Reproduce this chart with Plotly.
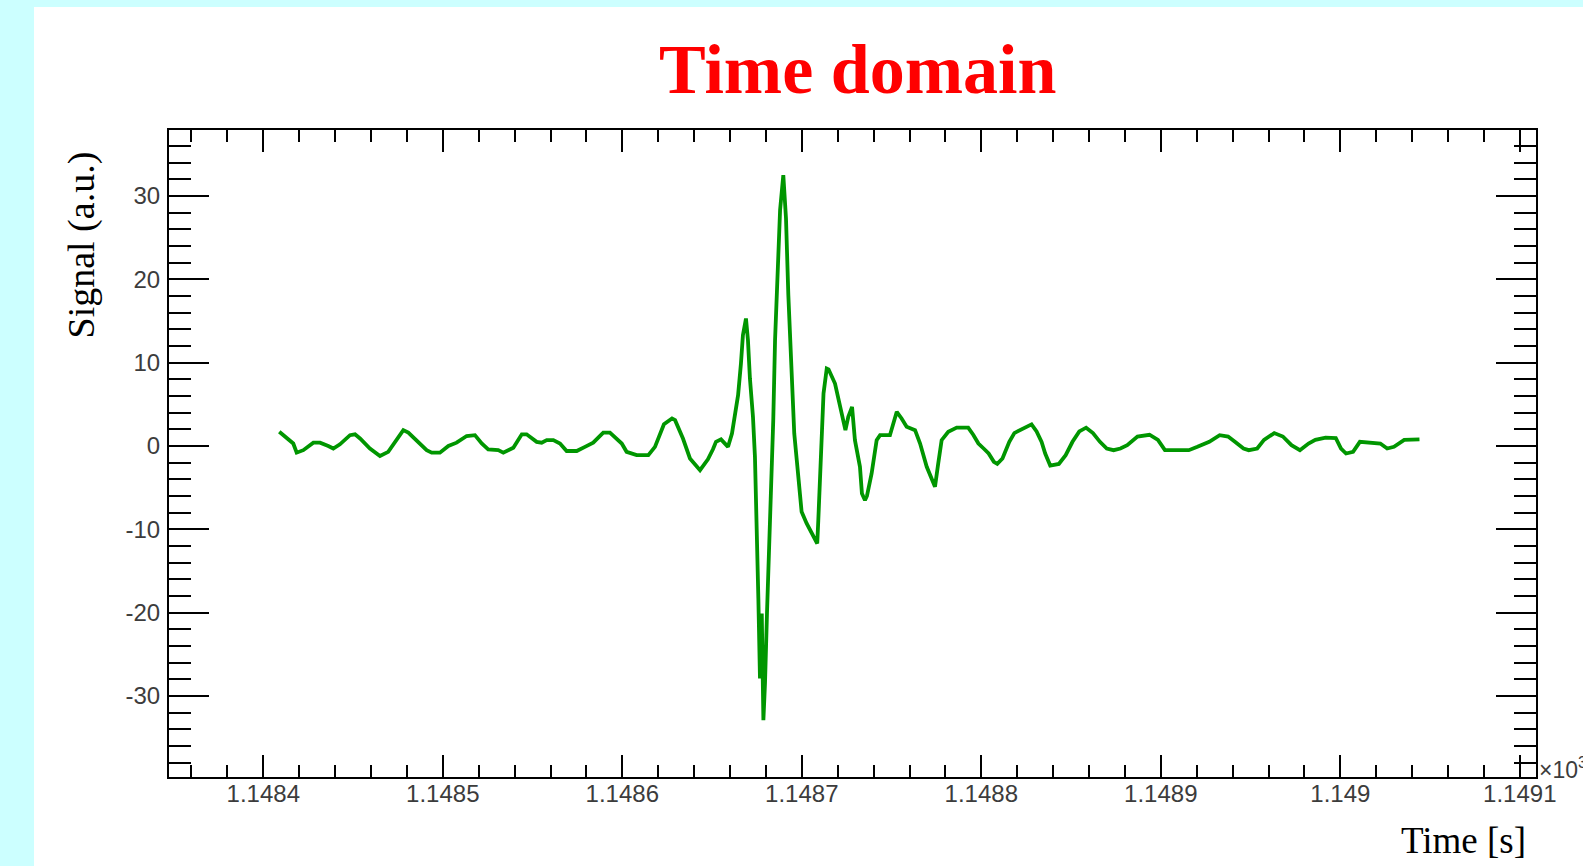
import plotly.graph_objects as go

# ---- data (time offsets in ms after t0 = 1148.4 s, signal in a.u.) ----
t0_s = 1148.4
dt_ms = [8.9, 16.7, 18.6, 22.3, 27.9, 31.6, 36.2, 39.0, 42.7, 48.3, 51.1, 53.9, 59.4, 65.0,
         69.6, 73.4, 78.0, 80.8, 85.5, 91.0, 93.8, 98.4, 103.1, 107.7, 113.3, 117.9, 121.7,
         125.3, 130.9, 133.7, 139.3, 144.0, 146.7, 152.3, 155.1, 157.9, 161.6, 165.3, 169.0,
         174.6, 179.2, 183.8, 189.4, 193.1, 199.7, 202.4, 208.0, 214.5, 218.2, 223.2, 227.7,
         229.4, 233.8, 237.7, 243.3, 247.7, 250.5, 252.2, 255.0, 258.9, 261.1, 262.8, 264.5,
         266.1, 267.2, 268.9, 270.0, 271.1, 272.8, 273.9, 274.9, 275.8, 276.7, 277.7, 278.6,
         279.5, 280.6, 282.0, 283.1, 284.1, 285.1, 286.3, 287.9, 289.7, 291.2, 292.5, 294.4,
         295.8, 297.2, 298.0, 299.0, 299.9, 302.7, 306.4, 308.6, 309.2, 310.1, 311.6, 312.1,
         313.9, 314.9, 318.5, 322.2, 324.3, 325.9, 328.0, 329.6, 332.4, 333.5, 335.2, 336.3,
         338.9, 341.7, 343.6, 349.1, 351.0, 352.9, 355.6, 358.4, 363.1, 365.9, 369.6, 374.2,
         376.0, 377.9, 381.6, 386.3, 390.0, 392.7, 395.5, 398.4, 401.3, 404.1, 407.0, 408.9,
         411.8, 415.6, 418.4, 422.2, 428.0, 430.8, 433.6, 435.6, 438.4, 443.2, 447.0, 450.8,
         454.6, 458.4, 462.2, 466.1, 469.9, 473.7, 477.5, 481.3, 487.0, 493.7, 498.4, 502.3,
         508.0, 515.6, 520.4, 527.0, 532.8, 537.5, 541.3, 546.1, 549.0, 553.7, 557.5, 563.2,
         568.0, 572.8, 577.5, 582.3, 586.1, 591.8, 597.5, 600.4, 603.2, 607.1, 610.9, 615.6,
         622.3, 626.1, 629.9, 635.6, 641.3, 644.1]
signal = [1.7, 0.3, -0.8, -0.5, 0.4, 0.4, 0.0, -0.3, 0.2, 1.3, 1.4, 0.9, -0.3, -1.2,
          -0.7, 0.5, 1.9, 1.6, 0.6, -0.5, -0.8, -0.8, 0.0, 0.4, 1.2, 1.3, 0.3,
          -0.4, -0.5, -0.8, -0.2, 1.4, 1.4, 0.5, 0.4, 0.7, 0.7, 0.3, -0.6,
          -0.6, -0.1, 0.4, 1.6, 1.6, 0.3, -0.7, -1.1, -1.1, -0.1, 2.6, 3.3,
          3.1, 0.9, -1.5, -2.9, -1.6, -0.4, 0.5, 0.8, -0.1, 1.5, 3.9, 6.1,
          9.9, 13.3, 15.3, 12.7, 8.1, 3.5, -1.3, -8.5, -18.3, -27.9, -20.1, -32.9,
          -28.5, -20.1, -11.7, -3.3, 3.1, 12.7, 20.5, 28.3, 32.5, 27.3, 18.1, 8.7,
          1.5, -1.7, -3.3, -6.1, -7.9, -9.3, -10.7, -11.7, -8.9, -3.9, 1.5, 6.3,
          9.3, 9.2, 7.5, 3.7, 1.9, 3.5, 4.7, 0.7, -2.5, -5.7, -6.5, -6.0,
          -3.3, 0.7, 1.3, 1.3, 2.7, 4.1, 3.3, 2.3, 1.9, 0.3, -2.5, -4.9,
          -2.1, 0.7, 1.7, 2.2, 2.2, 2.2, 1.35, 0.3, -0.3, -0.9, -1.9, -2.15,
          -1.5, 0.5, 1.55, 2.0, 2.6, 1.75, 0.5, -0.9, -2.35, -2.15, -1.1, 0.5,
          1.75, 2.2, 1.55, 0.5, -0.3, -0.5, -0.3, 0.1, 1.14, 1.35, 0.73, -0.5,
          -0.5, -0.5, -0.1, 0.5, 1.3, 1.14, 0.5, -0.3, -0.5, -0.3, 0.73, 1.55,
          1.14, 0.1, -0.5, 0.3, 0.73, 1.0, 0.94, -0.3, -0.9, -0.7, 0.5, 0.45,
          0.3, -0.3, -0.1, 0.73, 0.73, 0.8]

x_tickvals = [1.1484, 1.1485, 1.1486, 1.1487, 1.1488, 1.1489, 1.1490, 1.1491]
x_ticktext = ["1.1484", "1.1485", "1.1486", "1.1487", "1.1488", "1.1489", "1.149", "1.1491"]
y_tickvals = [-30, -20, -10, 0, 10, 20, 30]
y_ticktext = ["-30", "-20", "-10", "0", "10", "20", "30"]

# time axis shown in units of 10^3 s
time_k = [(t0_s + d / 1000.0) / 1000.0 for d in dt_ms]

# ---- layout geometry (pixels) ----
W, H = 1583, 866
L, R, T, B = 169, 1536, 130, 777
pw, ph = R - L, B - T


def px(xp):
    return (xp - L) / pw


def py(yp):
    return (B - yp) / ph


fig = go.Figure()
fig.add_trace(go.Scatter(x=time_k, y=signal, mode="lines",
                         line=dict(color="#009600", width=3.8),
                         hoverinfo="skip", showlegend=False))

tickfont = dict(family="Liberation Sans, Arial, sans-serif", size=24, color="#3c3c3c")

fig.update_layout(
    width=W, height=H, autosize=False,
    margin=dict(l=L, r=W - R, t=T, b=H - B, pad=0),
    paper_bgcolor="#ccffff", plot_bgcolor="white",
    xaxis=dict(range=[1.14834747, 1.14910902], tickmode="array",
               tickvals=x_tickvals, ticktext=x_ticktext,
               ticks="inside", ticklen=22, tickwidth=2, tickcolor="black",
               showline=True, linewidth=2, linecolor="black", mirror="allticks",
               showgrid=False, zeroline=False, tickfont=tickfont,
               ticklabelstandoff=-6,
               minor=dict(tickmode="linear", tick0=1.1484, dtick=0.00002,
                          ticks="inside", ticklen=12, tickwidth=2, tickcolor="black",
                          showgrid=False)),
    yaxis=dict(range=[-39.72, 37.92], tickmode="array",
               tickvals=y_tickvals, ticktext=y_ticktext,
               ticks="inside", ticklen=40, tickwidth=2, tickcolor="black",
               showline=True, linewidth=2, linecolor="black", mirror="allticks",
               showgrid=False, zeroline=False, tickfont=tickfont,
               ticklabelstandoff=2,
               minor=dict(tickmode="linear", tick0=0, dtick=2,
                          ticks="inside", ticklen=22, tickwidth=2, tickcolor="black",
                          showgrid=False)),
    shapes=[dict(type="rect", xref="paper", yref="paper",
                 x0=px(34), x1=px(1600), y0=py(880), y1=py(7),
                 fillcolor="white", line=dict(width=0), layer="below")],
    annotations=[
        dict(text="<b>Time domain</b>", xref="paper", yref="paper",
             x=px(858), y=py(70), xanchor="center", yanchor="middle", showarrow=False,
             font=dict(family="Liberation Serif, Times New Roman, serif", size=70, color="#ff0000")),
        dict(text="Signal (a.u.)", xref="paper", yref="paper", textangle=-90,
             x=px(81), y=py(150), xanchor="center", yanchor="top", showarrow=False,
             font=dict(family="Liberation Serif, Times New Roman, serif", size=38, color="black")),
        dict(text="Time [s]", xref="paper", yref="paper",
             x=px(1528), y=py(840), xanchor="right", yanchor="middle", showarrow=False,
             font=dict(family="Liberation Serif, Times New Roman, serif", size=37, color="black")),
        dict(text="×10<sup>3</sup>", xref="paper", yref="paper",
             x=px(1537), y=py(768), xanchor="left", yanchor="middle", showarrow=False,
             font=dict(family="Liberation Sans, Arial, sans-serif", size=23, color="#3c3c3c")),
    ],
)

fig.write_html("out.html")
